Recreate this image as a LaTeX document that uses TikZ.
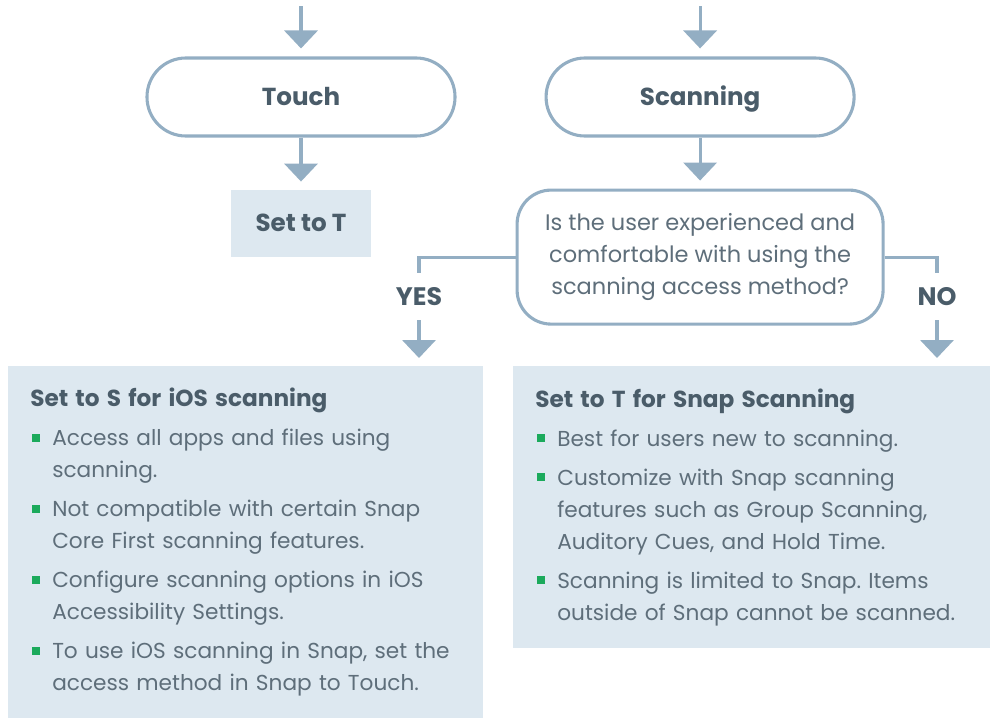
\documentclass[tikz,border=0pt]{standalone}
\usepackage{fontspec}
\setmainfont{Poppins}
\usepackage{xcolor}
\usepackage{tikz}
\usetikzlibrary{shapes.geometric, arrows.meta, positioning}

\definecolor{edgeblue}{HTML}{93AEC3}
\definecolor{boxblue}{HTML}{DDE8F0}
\definecolor{titlegray}{HTML}{4A5C69}
\definecolor{textgray}{HTML}{5E6E7A}
\definecolor{bulletgreen}{HTML}{1BAA5C}

\newcommand{\sqbullet}{\hspace*{0.05cm}\textcolor{bulletgreen}{\rule[0.1cm]{0.2cm}{0.2cm}}}
\newcommand{\infotitle}[1]{\noindent{\fontsize{16.5}{22.76}\selectfont\bfseries\color{titlegray}#1}}
\newcommand{\infoitem}[1]{\par\vspace{5pt}\noindent\hangindent=0.55cm\hangafter=1\makebox[0.55cm][l]{\sqbullet}#1}

\tikzstyle{terminal} = [rectangle, rounded corners=0.97cm, minimum width=7.7cm, minimum height=1.95cm, text centered, text height=12.2pt, text depth=0pt, draw=edgeblue, line width=2.2pt, fill=white, text=titlegray, font=\fontsize{17.5}{21}\selectfont\bfseries]
\tikzstyle{result} = [rectangle, minimum width=3.5cm, minimum height=1.675cm, text centered, text height=12.2pt, text depth=0pt, fill=boxblue, text=titlegray, font=\fontsize{17.5}{21}\selectfont\bfseries]
\tikzstyle{decision} = [rectangle, rounded corners=0.85cm, minimum width=9.15cm, minimum height=3.35cm, align=center, draw=edgeblue, line width=2.2pt, text=textgray, font=\fontsize{16}{22.76}\selectfont]
\tikzstyle{answer} = [minimum height=1.175cm, inner sep=0pt, text=titlegray, font=\fontsize{18}{22}\selectfont\bfseries]
\tikzstyle{infobox} = [rectangle, anchor=north west, inner xsep=0.55cm, inner ysep=0pt, align=left, fill=boxblue, text=textgray, font=\fontsize{15.4}{22.76}\selectfont\frenchspacing]
\tikzstyle{link} = [draw=edgeblue, line width=2.2pt]
\tikzstyle{arrow} = [link, -{Triangle[width=0.83cm, length=0.45cm]}, shorten >=0.2cm]

\begin{document}
\begin{tikzpicture}

\useasboundingbox (0,0) rectangle (24.85,-17.95);

% Access methods
\node (touch) [terminal] at (7.525,-2.425) {Touch};
\node (scanning) [terminal, right=2.2cm of touch] {Scanning};

% Outcomes
\node (setT) [result, below=1.3cm of touch] {Set to T};
\node (question) [decision, below=1.275cm of scanning] {Is the user experienced and\\comfortable with using the\\scanning access method?};

% Answers
\node (yes) [answer] at (10.475,-7.4125) {YES};
\node (no) [answer] at (23.425,-7.4125) {NO};

% Scanning options
\node (iosscan) [infobox, text width=10.775cm, minimum height=8.8cm] at (0.2,-9.15) {%
\infotitle{Set to S for iOS scanning}
\infoitem{Access all apps and files using\newline scanning.}
\infoitem{Not compatible with certain Snap\newline Core First scanning features.}
\infoitem{Configure scanning options in iOS\newline Accessibility Settings.}
\infoitem{To use iOS scanning in Snap, set the\newline access method in Snap to Touch.}\par};
\node (snapscan) [infobox, text width=10.825cm, minimum height=7.05cm] at (12.825,-9.15) {%
\infotitle{Set to T for Snap Scanning}
\infoitem{Best for users new to scanning.}
\infoitem{Customize with Snap scanning\newline features such as Group Scanning,\newline Auditory Cues, and Hold Time.}
\infoitem{Scanning is limited to Snap. Items\newline outside of Snap cannot be scanned.}\par};

% Inputs
\coordinate [above=1.25cm of touch] (touchin);
\coordinate [above=1.25cm of scanning] (scanin);

% Connections
\draw [arrow] (touchin) -- (touch);
\draw [arrow] (scanin) -- (scanning);
\draw [arrow] (touch) -- (setT);
\draw [arrow] (scanning) -- (question);

\draw [link] (question.west) -| (yes.north);
\draw [arrow] (yes.south) -- (yes.south |- iosscan.north);
\draw [link] (question.east) -| (no.north);
\draw [arrow] (no.south) -- (no.south |- snapscan.north);

\end{tikzpicture}
\end{document}
